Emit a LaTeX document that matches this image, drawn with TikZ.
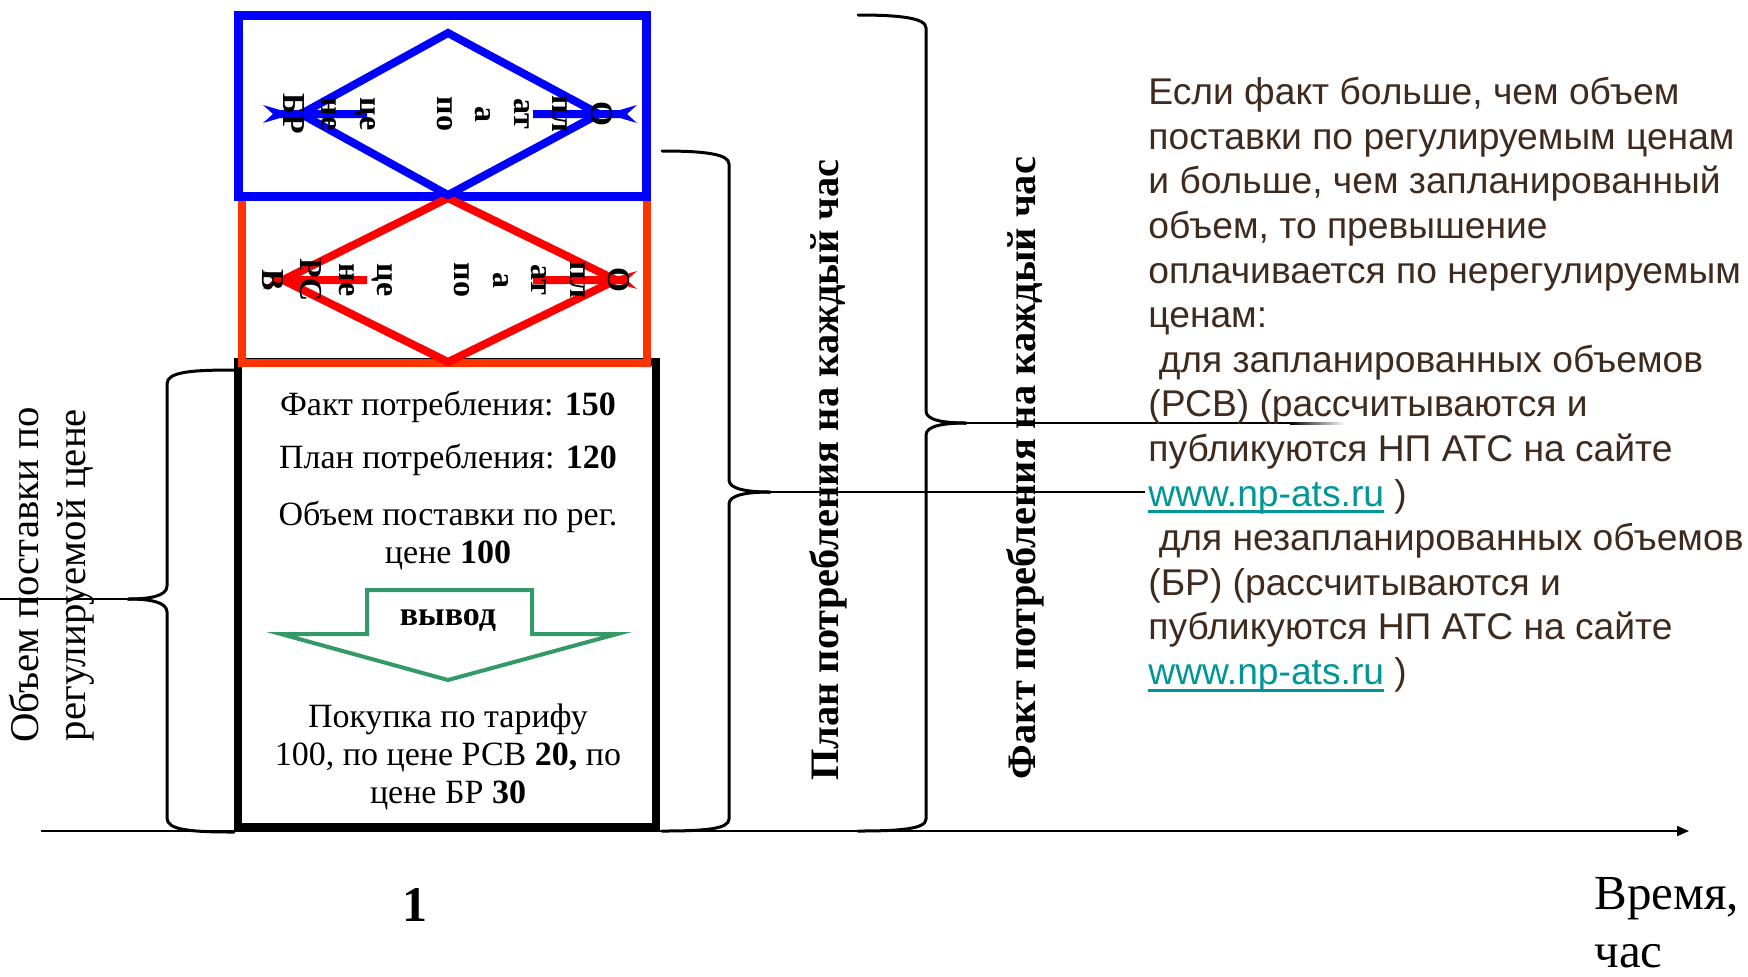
\documentclass[tikz,border=0pt]{standalone}
\usepackage{fontspec}
\setmainfont{Liberation Serif}
\setsansfont{Liberation Sans}
\usetikzlibrary{arrows.meta}
\definecolor{bluec}{RGB}{0,0,255}
\definecolor{redd}{RGB}{255,0,0}
\definecolor{redr}{RGB}{255,51,0}
\definecolor{greenc}{RGB}{51,153,102}
\definecolor{brownt}{RGB}{62,43,30}
\definecolor{linkc}{RGB}{0,150,150}
\newcommand\linkul[1]{\setbox0\hbox{#1}\rlap{\rule[-3.6pt]{\wd0}{1.4pt}}\box0}
\tikzset{
  frame/.style={line width=4pt},
  dia/.style={line width=4pt, miter limit=10},
  bracestyle/.style={line width=1.5pt, line cap=round},
  conn/.style={line width=1pt},
  boxtxt/.style={inner sep=0pt, align=center, font=\fontsize{17}{19}\selectfont},
  diatxt/.style={inner sep=0pt, rotate=-90, align=center, font=\bfseries\fontsize{16}{19.25}\selectfont},
  sidetxt/.style={inner sep=0pt, rotate=90, align=center},
}
\begin{document}
\begin{tikzpicture}[x=0.5pt,y=-0.5pt]
\useasboundingbox (0,0) rectangle (1748,976);
% axis
\coordinate (ax0) at (41,831);
\coordinate (ax1) at (1689,831);
\draw[line width=1pt, -{Triangle[length=6pt,width=5pt]}] (ax0) -- (ax1);
% black box
\draw[frame] (237.5,362) rectangle (656,827);
% red box
\draw[frame, redr] (241.5,196) rectangle (646.5,362.5);
% blue box
\draw[frame, bluec, line width=4.5pt] (238,15) rectangle (646.5,196);
% red diamond
\draw[dia, redd] (448,198) -- (616,280) -- (448,362) -- (283,280) -- cycle;
% blue diamond
\draw[dia, bluec] (448,33) -- (599,114) -- (448,195) -- (301,114) -- cycle;
% bars in diamonds
\foreach \c/\y in {bluec/114, redd/280}{
  \fill[\c] (263,\y-9) -- (280,\y-4) -- (367,\y-4) -- (367,\y+4) -- (280,\y+4) -- (263,\y+9) -- (273,\y) -- cycle;
  \fill[\c] (637,\y-9) -- (620,\y-4) -- (533,\y-4) -- (533,\y+4) -- (620,\y+4) -- (637,\y+9) -- (627,\y) -- cycle;
}
\node[diatxt] (dblue) at (448,114) {О\\пл\\ат\\а\\по\\[19.25pt]це\\не\\БР};
\node[diatxt] (dred) at (446,280) {О\\пл\\ат\\а\\по\\[19.25pt]це\\не\\РС\\В};
% box texts
\node[boxtxt] (t1) at (448,407) {Факт потребления: \textbf{150}};
\node[boxtxt] (t2) at (448,460) {План потребления: \textbf{120}};
\node[boxtxt] (t3) at (448,536) {Объем поставки по рег.\\цене \textbf{100}};
\draw[greenc, line width=2pt] (367,590) -- (532,590) -- (532,634) -- (617,634) -- (448,680) -- (281,634) -- (367,634) -- cycle;
\node[boxtxt, font=\bfseries\fontsize{17}{19}\selectfont] (concl) at (448,620) {вывод};
\node[boxtxt] (t4) at (448,757) {Покупка по тарифу\\100, по цене РСВ \textbf{20,} по\\цене БР \textbf{30}};
% left brace
\coordinate (lc) at (128,599);
\coordinate (lend) at (0,599);
\draw[bracestyle] (234,370) .. controls (190,370) and (167,372) .. (167,384) -- (167,586) .. controls (167,596) and (150,599) .. (lc);
\draw[bracestyle] (lc) .. controls (150,599) and (167,602) .. (167,612) -- (167,818) .. controls (167,830) and (190,832) .. (234,832);
\draw[conn] (lc) -- (lend);
\node[sidetxt, font=\fontsize{20.4}{23.5}\selectfont] (lbl) at (52,575) {Объем поставки по\\регулируемой цене};
% plan brace
\coordinate (pc) at (770,492);
\coordinate (pend) at (1145,492);
\draw[bracestyle] (662,151) .. controls (705,151) and (729,154) .. (729,164) -- (729,480) .. controls (729,489) and (747,492) .. (pc);
\draw[bracestyle] (pc) .. controls (747,492) and (729,495) .. (729,504) -- (729,819) .. controls (729,829) and (705,831) .. (662,831);
\draw[conn] (pc) -- (pend);
% fact brace
\coordinate (fc) at (966,423);
\coordinate (fend) at (1290,423);
\draw[bracestyle] (858,15) .. controls (900,15) and (926,18) .. (926,28) -- (926,411) .. controls (926,420) and (943,423) .. (fc);
\draw[bracestyle] (fc) .. controls (943,423) and (926,426) .. (926,435) -- (926,819) .. controls (926,829) and (900,831) .. (858,831);
\draw[conn] (fc) -- (fend);
\shade[left color=black, right color=white] (1290,422) rectangle (1345,424);
% rotated labels
\node[sidetxt, font=\bfseries\fontsize{20.2}{25}\selectfont] (plan) at (828,470) {План потребления на каждый час};
\node[sidetxt, font=\bfseries\fontsize{20.2}{25}\selectfont] (fact) at (1025,468) {Факт потребления на каждый час};
% right text
\node[anchor=north west, inner sep=0pt, align=left, text=brownt, font=\sffamily\fontsize{18.6}{22.3}\selectfont] (rt) at (1148,77) {Если факт больше, чем объем\\поставки по регулируемым ценам\\и больше, чем запланированный\\объем, то превышение\\оплачивается по нерегулируемым\\ценам:\\\ для запланированных объемов\\(РСВ) (рассчитываются и\\публикуются НП АТС на сайте\\\textcolor{linkc}{\linkul{www.np-ats.ru}} )\\\ для незапланированных объемов\\(БР) (рассчитываются и\\публикуются НП АТС на сайте\\\textcolor{linkc}{\linkul{www.np-ats.ru}} )};
% bottom labels
\node[inner sep=0pt, font=\bfseries\fontsize{25}{30}\selectfont] (one) at (415,905) {1};
\node[anchor=north west, inner sep=0pt, align=left, font=\fontsize{24.5}{29}\selectfont] (time) at (1594,877) {Время,\\час};
\end{tikzpicture}
\end{document}
